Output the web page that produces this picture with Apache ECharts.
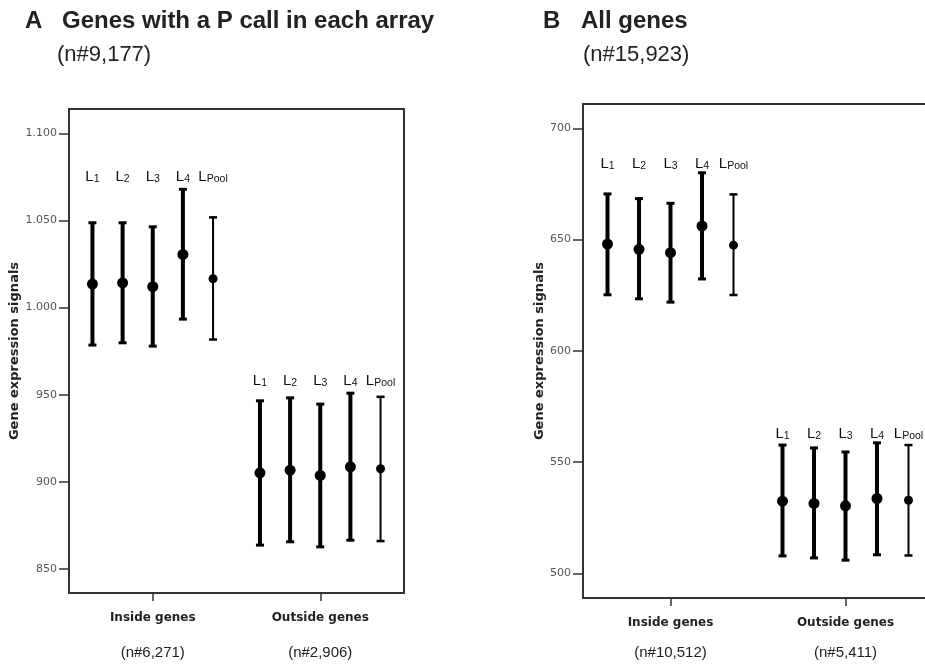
<!DOCTYPE html>
<html>
<head>
<meta charset="utf-8">
<style>
  html, body { margin: 0; padding: 0; background: #ffffff; }
  #chart { width: 925px; height: 664px; }
</style>
<script src="https://cdn.jsdelivr.net/npm/echarts@6/dist/echarts.min.js"></script>
</head>
<body>
<div id="chart"></div>
<script>
// ---- Data ----
const groups = ['Inside genes', 'Outside genes'];
const arrayNames = ['1', '2', '3', '4', 'Pool'];   // subscripts after "L"

const panelATitle = 'Genes with a P call in each array';
const panelASub = '(n#9,177)';
const panelAGroupN = ['(n#6,271)', '(n#2,906)'];
const panelAYTicks = [850, 900, 950, 1000, 1050, 1100];

const aInsideMean  = [1013.5, 1014.2, 1012.0, 1030.5, 1016.6];
const aInsideLow   = [978.5, 979.8, 977.9, 993.4, 981.7];
const aInsideHigh  = [1048.7, 1048.7, 1046.4, 1067.9, 1051.8];
const aOutsideMean = [905.2, 906.7, 903.7, 908.6, 907.5];
const aOutsideLow  = [863.7, 865.6, 862.7, 866.5, 866.0];
const aOutsideHigh = [946.5, 948.2, 944.6, 950.9, 948.8];

const panelBTitle = 'All genes';
const panelBSub = '(n#15,923)';
const panelBGroupN = ['(n#10,512)', '(n#5,411)'];
const panelBYTicks = [500, 550, 600, 650, 700];

const bInsideMean  = [648.0, 645.6, 644.1, 656.1, 647.5];
const bInsideLow   = [625.2, 623.4, 621.9, 632.3, 625.1];
const bInsideHigh  = [670.5, 668.4, 666.3, 680.0, 670.3];
const bOutsideMean = [532.5, 531.5, 530.4, 533.7, 532.9];
const bOutsideLow  = [507.9, 507.0, 506.0, 508.4, 508.1];
const bOutsideHigh = [557.7, 556.4, 554.6, 558.7, 557.7];

const yName = 'Gene expression signals';

// ---- Build series data ----
function buildData(groupsData) {
  const out = [];
  groupsData.forEach(function (gd, g) {
    const gmax = Math.max.apply(null, gd.high);
    for (let k = 0; k < gd.mean.length; k++) {
      out.push([g, k, gd.low[k], gd.high[k], gd.mean[k], gmax]);
    }
  });
  return out;
}
const dataA = buildData([
  { mean: aInsideMean, low: aInsideLow, high: aInsideHigh },
  { mean: aOutsideMean, low: aOutsideLow, high: aOutsideHigh }
]);
const dataB = buildData([
  { mean: bInsideMean, low: bInsideLow, high: bInsideHigh },
  { mean: bOutsideMean, low: bOutsideLow, high: bOutsideHigh }
]);

function makeRender(labelGap) {
  return function (params, api) {
    const cat = api.value(0);
    const k = api.value(1);
    const low = api.value(2), high = api.value(3), mean = api.value(4), gmax = api.value(5);
    const band = api.size([1, 0])[0];
    const offset = (k - 2) * band * 0.18;
    const pLow = api.coord([cat, low]);
    const x = pLow[0] + offset;
    const yLow = pLow[1];
    const yHigh = api.coord([cat, high])[1];
    const yMean = api.coord([cat, mean])[1];
    const yTop = api.coord([cat, gmax])[1];
    const thin = (k === 4);
    const lw = thin ? 2 : 4;
    const capW = 8;
    const capLw = thin ? 2.5 : 3;
    const r = thin ? 4.5 : 5.5;
    const sub = arrayNames[k];
    return {
      type: 'group',
      children: [
        { type: 'line', shape: { x1: x, y1: yLow, x2: x, y2: yHigh }, style: { stroke: '#000', lineWidth: lw } },
        { type: 'line', shape: { x1: x - capW / 2, y1: yHigh, x2: x + capW / 2, y2: yHigh }, style: { stroke: '#000', lineWidth: capLw } },
        { type: 'line', shape: { x1: x - capW / 2, y1: yLow, x2: x + capW / 2, y2: yLow }, style: { stroke: '#000', lineWidth: capLw } },
        { type: 'circle', shape: { cx: x, cy: yMean, r: r }, style: { fill: '#000' } },
        {
          type: 'text',
          style: {
            text: '{l|L}{s|' + sub + '}',
            x: x, y: yTop - labelGap,
            align: 'center', verticalAlign: 'middle',
            rich: {
              l: { fontSize: 15, fontFamily: 'Liberation Sans', fill: '#111', verticalAlign: 'bottom', lineHeight: 17 },
              s: { fontSize: 10.5, fontFamily: 'Liberation Sans', fill: '#111', verticalAlign: 'bottom', lineHeight: 17, padding: [2, 0, 0, 0] }
            }
          }
        }
      ]
    };
  };
}

function yFmt(v) {
  if (v >= 1000) {
    const th = Math.floor(v / 1000);
    const rest = String(v % 1000).padStart(3, '0');
    return th + '.' + rest;
  }
  return String(v);
}

function xAxisFor(gridIndex, nLabels, margin, nLineHeight) {
  return {
    type: 'category',
    gridIndex: gridIndex,
    data: groups,
    boundaryGap: true,
    axisLine: { show: true, lineStyle: { color: '#333', width: 2 } },
    axisTick: { show: true, alignWithLabel: true, length: 8, lineStyle: { color: '#333', width: 1.5 } },
    axisLabel: {
      margin: margin,
      formatter: function (val, idx) {
        return '{b|' + val + '}\n{n|' + nLabels[idx] + '}';
      },
      rich: {
        b: { fontFamily: 'DejaVu Sans', fontWeight: 'bold', fontSize: 12, color: '#222', lineHeight: 20 },
        n: { fontFamily: 'Liberation Sans', fontSize: 15, color: '#222', lineHeight: nLineHeight }
      }
    },
    splitLine: { show: false }
  };
}

function yAxisFor(gridIndex, min, max, ticks, nameGap) {
  return {
    type: 'value',
    gridIndex: gridIndex,
    min: min, max: max,
    name: yName,
    nameLocation: 'middle',
    nameGap: nameGap,
    nameRotate: 90,
    nameTextStyle: { fontFamily: 'DejaVu Sans', fontWeight: 'bold', fontSize: 13, color: '#222' },
    axisLine: { show: true, lineStyle: { color: '#333', width: 2 } },
    axisTick: { show: true, length: 10, customValues: ticks, lineStyle: { color: '#333', width: 1.5 } },
    axisLabel: { customValues: ticks, margin: 12, formatter: yFmt, fontFamily: 'DejaVu Sans', fontSize: 11, color: '#555' },
    splitLine: { show: false }
  };
}

const chart = echarts.init(document.getElementById('chart'), null, { renderer: 'canvas' });
chart.setOption({
  animation: false,
  backgroundColor: '#ffffff',
  grid: [
    { left: 69, top: 109, width: 335, height: 484, outerBoundsMode: 'none', containLabel: false, show: true, borderColor: '#333', borderWidth: 2, backgroundColor: 'transparent' },
    { left: 583, top: 104, width: 350, height: 494, outerBoundsMode: 'none', containLabel: false, show: true, borderColor: '#333', borderWidth: 2, backgroundColor: 'transparent' }
  ],
  xAxis: [
    xAxisFor(0, panelAGroupN, 15, 50),
    xAxisFor(1, panelBGroupN, 15, 40)
  ],
  yAxis: [
    yAxisFor(0, 836.2, 1114, panelAYTicks, 44),
    yAxisFor(1, 489, 710.9, panelBYTicks, 34)
  ],
  graphic: [
    { type: 'text', left: 25, top: 9, style: { text: 'A', font: 'bold 24px "Liberation Sans"', fill: '#222' } },
    { type: 'text', left: 62, top: 9, style: { text: panelATitle, font: 'bold 24px "Liberation Sans"', fill: '#222' } },
    { type: 'text', left: 57, top: 44, style: { text: panelASub, font: '22px "Liberation Sans"', fill: '#222' } },
    { type: 'text', left: 543, top: 9, style: { text: 'B', font: 'bold 24px "Liberation Sans"', fill: '#222' } },
    { type: 'text', left: 581, top: 9, style: { text: panelBTitle, font: 'bold 24px "Liberation Sans"', fill: '#222' } },
    { type: 'text', left: 583, top: 44, style: { text: panelBSub, font: '22px "Liberation Sans"', fill: '#222' } }
  ],
  series: [
    { type: 'custom', xAxisIndex: 0, yAxisIndex: 0, renderItem: makeRender(13), data: dataA, encode: { x: 0, y: [2, 3, 4] }, clip: false },
    { type: 'custom', xAxisIndex: 1, yAxisIndex: 1, renderItem: makeRender(10), data: dataB, encode: { x: 0, y: [2, 3, 4] }, clip: false }
  ]
});
</script>
</body>
</html>
